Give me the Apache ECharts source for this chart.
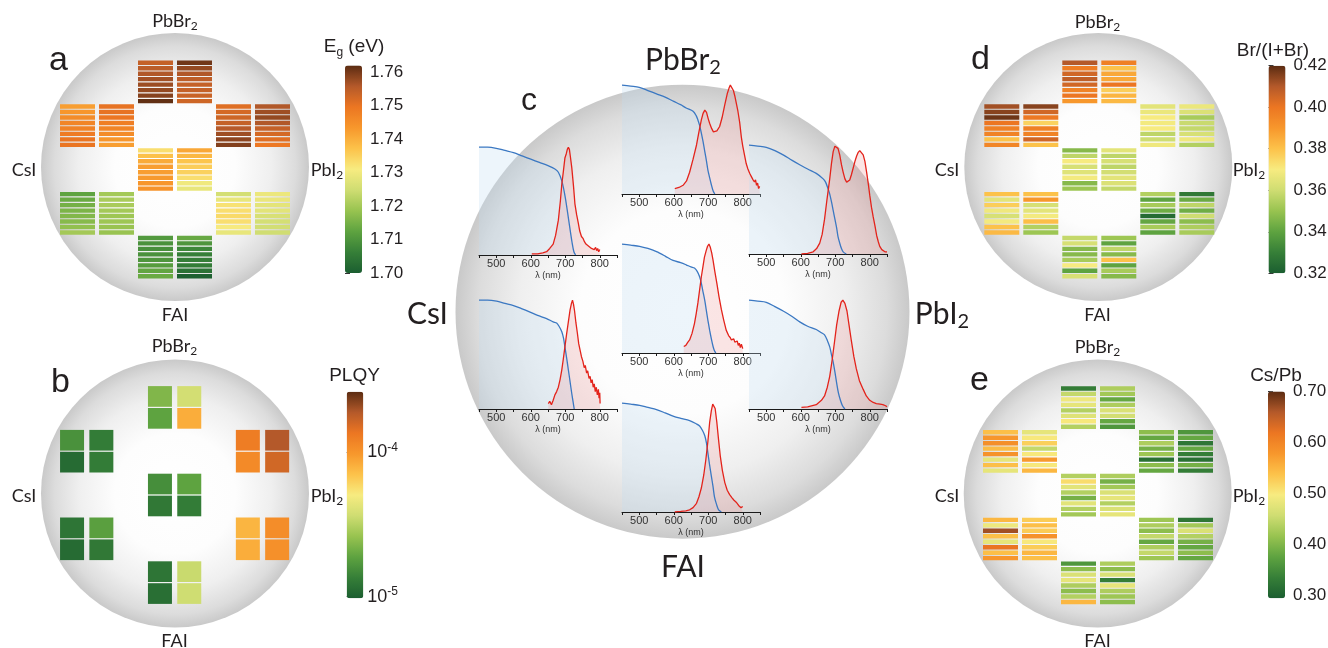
<!DOCTYPE html>
<html>
<head>
<meta charset="utf-8">
<title>Combinatorial perovskite maps</title>
<script src="https://cdn.jsdelivr.net/npm/echarts@6.0.0/dist/echarts.min.js"></script>
<style>
  html, body { margin: 0; padding: 0; background: #fff; }
  #chart { width: 1328px; height: 648px; }
</style>
</head>
<body>
<div id="chart"></div>
<script>
const FONT_LABEL = 'Lato, "Open Sans", sans-serif';
const FONT_NUM = '"Liberation Sans", Arial, sans-serif';
const INK = '#231f20';

// shared colormap, dark green -> yellow -> orange -> brown
const palette = ['#1b5e30', '#367f38', '#5ea340', '#98c350', '#cfdd72', '#f7eb80',
  '#fcc24a', '#f7972c', '#ec7622', '#b4592a', '#5b2c12'];

// block order everywhere: top, upper-left, upper-right, centre, lower-left, lower-right, bottom
// each block = two columns of stripes, values listed top to bottom
const bandGap = [
  [[1.754, 1.755, 1.756, 1.757, 1.7575, 1.758, 1.759, 1.7615], [1.7605, 1.758, 1.756, 1.7548, 1.754, 1.754, 1.7536, 1.753]],
  [[1.7424, 1.7436, 1.7455, 1.7467, 1.7474, 1.7486, 1.7498, 1.7498], [1.7502, 1.7502, 1.7496, 1.748, 1.7467, 1.7455, 1.7436, 1.7424]],
  [[1.751, 1.7523, 1.753, 1.754, 1.7555, 1.7573, 1.7585, 1.7592], [1.756, 1.7573, 1.758, 1.756, 1.754, 1.7523, 1.751, 1.7492]],
  [[1.733, 1.7374, 1.7405, 1.7424, 1.7424, 1.743, 1.7436, 1.7442], [1.7411, 1.7386, 1.7368, 1.7355, 1.7349, 1.733, 1.7299, 1.7287]],
  [[1.7124, 1.7137, 1.7149, 1.7156, 1.7162, 1.7168, 1.718, 1.7199], [1.72, 1.7206, 1.7206, 1.72, 1.7193, 1.7193, 1.7187, 1.7187]],
  [[1.7255, 1.7287, 1.7324, 1.733, 1.7336, 1.733, 1.7311, 1.7287], [1.7293, 1.729, 1.728, 1.7277, 1.7262, 1.7255, 1.7252, 1.7249]],
  [[1.7106, 1.7093, 1.709, 1.7093, 1.71, 1.7112, 1.7128, 1.7137], [1.7134, 1.71, 1.7075, 1.7062, 1.7059, 1.7056, 1.7037, 1.7006]]
];

// PLQY, two cells per column
const plqy = [
  [[2.30e-5, 1.88e-5], [3.77e-5, 8.3e-5]],
  [[1.60e-5, 1.11e-5], [1.31e-5, 1.31e-5]],
  [[1.27e-4, 1.12e-4], [1.89e-4, 1.60e-4]],
  [[1.55e-5, 1.27e-5], [1.88e-5, 1.31e-5]],
  [[1.23e-5, 1.11e-5], [1.82e-5, 1.27e-5]],
  [[7.8e-5, 8.3e-5], [1.08e-4, 1.05e-4]],
  [[1.23e-5, 1.15e-5], [3.52e-5, 3.64e-5]]
];

const brRatio = [
  [[0.41, 0.398, 0.405, 0.408, 0.405, 0.396, 0.40, 0.39], [0.397, 0.38, 0.386, 0.386, 0.40, 0.377, 0.383, 0.382]],
  [[0.412, 0.415, 0.418, 0.40, 0.397, 0.396, 0.38, 0.395], [0.415, 0.405, 0.399, 0.376, 0.397, 0.396, 0.405, 0.38]],
  [[0.365, 0.367, 0.37, 0.369, 0.37, 0.357, 0.36, 0.368], [0.367, 0.363, 0.353, 0.359, 0.358, 0.362, 0.368, 0.355]],
  [[0.347, 0.357, 0.37, 0.362, 0.364, 0.369, 0.347, 0.351], [0.365, 0.357, 0.362, 0.357, 0.361, 0.365, 0.363, 0.358]],
  [[0.38, 0.365, 0.377, 0.368, 0.362, 0.369, 0.38, 0.382], [0.38, 0.39, 0.362, 0.365, 0.369, 0.381, 0.355, 0.351]],
  [[0.355, 0.34, 0.353, 0.343, 0.324, 0.341, 0.353, 0.34], [0.328, 0.342, 0.357, 0.343, 0.36, 0.348, 0.354, 0.353]],
  [[0.358, 0.362, 0.347, 0.347, 0.353, 0.37, 0.34, 0.362], [0.351, 0.34, 0.357, 0.347, 0.38, 0.34, 0.353, 0.347]]
];

const csPb = [
  [[0.332, 0.448, 0.488, 0.48, 0.436, 0.472, 0.50, 0.436], [0.432, 0.424, 0.38, 0.432, 0.468, 0.46, 0.38, 0.36]],
  [[0.54, 0.58, 0.588, 0.544, 0.584, 0.48, 0.54, 0.48], [0.48, 0.50, 0.524, 0.448, 0.50, 0.576, 0.50, 0.548]],
  [[0.408, 0.38, 0.432, 0.392, 0.42, 0.316, 0.408, 0.38], [0.36, 0.38, 0.324, 0.38, 0.332, 0.316, 0.392, 0.332]],
  [[0.436, 0.512, 0.476, 0.436, 0.392, 0.476, 0.436, 0.424], [0.432, 0.392, 0.424, 0.468, 0.48, 0.436, 0.468, 0.48]],
  [[0.548, 0.488, 0.668, 0.54, 0.48, 0.62, 0.54, 0.58], [0.528, 0.54, 0.528, 0.584, 0.50, 0.528, 0.548, 0.54]],
  [[0.42, 0.432, 0.408, 0.448, 0.38, 0.432, 0.448, 0.42], [0.324, 0.424, 0.468, 0.436, 0.392, 0.38, 0.408, 0.38]],
  [[0.36, 0.408, 0.468, 0.48, 0.432, 0.408, 0.436, 0.548], [0.432, 0.408, 0.468, 0.332, 0.48, 0.432, 0.42, 0.408]]
];

// colorbar ticks
const tickEg = [1.70, 1.71, 1.72, 1.73, 1.74, 1.75, 1.76];
const tickPlqy = [1e-5, 1e-4];
const tickBr = [0.32, 0.34, 0.36, 0.38, 0.40, 0.42];
const tickCs = [0.30, 0.40, 0.50, 0.60, 0.70];

// spectra of panel c: [wavelength nm, normalised signal]; abs = absorbance (blue), pl = photoluminescence (red)
const absTop = [[450, 1.0], [475, 0.99], [500, 0.98], [525, 0.95], [550, 0.92], [575, 0.89], [600, 0.85], [620, 0.82], [636, 0.79], [656, 0.76], [665, 0.72], [670, 0.68], [675, 0.63], [680, 0.56], [685, 0.48], [690, 0.39], [695, 0.3], [699, 0.22], [704, 0.15], [709, 0.085], [714, 0.03], [719, 0]];
const plTop = [[603, 0.05], [615, 0.06], [627, 0.08], [637, 0.12], [646, 0.2], [656, 0.32], [666, 0.45], [673, 0.57], [680, 0.68], [685, 0.74], [690, 0.77], [695, 0.75], [700, 0.69], [704, 0.65], [710, 0.6], [715, 0.57], [719, 0.56], [725, 0.58], [733, 0.62], [740, 0.7], [748, 0.82], [755, 0.92], [760, 0.97], [764, 1.0], [768, 0.99], [773, 0.95], [777, 0.9], [781, 0.84], [786, 0.76], [791, 0.66], [796, 0.52], [800, 0.44], [805, 0.36], [810, 0.28], [815, 0.23], [820, 0.19], [825, 0.16], [830, 0.13], [834, 0.11], [837, 0.13], [840, 0.08], [843, 0.1], [846, 0.05], [849, 0.07]];
const absUpperLeft = [[450, 0.99], [475, 0.99], [500, 0.98], [525, 0.96], [550, 0.94], [575, 0.91], [600, 0.88], [625, 0.85], [650, 0.82], [670, 0.79], [680, 0.76], [690, 0.68], [700, 0.53], [710, 0.32], [720, 0.11], [725, 0.03], [730, 0]];
const plUpperLeft = [[603, 0.01], [620, 0.01], [635, 0.02], [646, 0.03], [655, 0.06], [665, 0.1], [672, 0.18], [680, 0.32], [686, 0.5], [690, 0.65], [695, 0.78], [699, 0.89], [703, 0.93], [706, 0.97], [709, 0.99], [712, 0.97], [715, 0.9], [719, 0.8], [724, 0.63], [728, 0.47], [733, 0.37], [738, 0.29], [742, 0.22], [747, 0.17], [752, 0.15], [756, 0.12], [760, 0.1], [764, 0.11], [768, 0.08], [772, 0.09], [776, 0.06], [780, 0.07], [784, 0.05], [788, 0.07], [791, 0.04], [794, 0.06], [797, 0.03], [800, 0.05]];
const absUpperRight = [[450, 1.0], [475, 0.99], [500, 0.98], [525, 0.95], [549, 0.91], [575, 0.86], [597, 0.82], [620, 0.78], [645, 0.74], [665, 0.69], [672, 0.66], [679, 0.6], [684, 0.55], [689, 0.48], [694, 0.4], [699, 0.32], [704, 0.24], [708, 0.16], [713, 0.1], [718, 0.05], [723, 0.02], [732, 0]];
const plUpperRight = [[602, 0], [620, 0.005], [636, 0.02], [646, 0.05], [655, 0.1], [662, 0.18], [669, 0.32], [676, 0.5], [684, 0.69], [689, 0.83], [694, 0.94], [699, 0.99], [704, 1.0], [708, 0.97], [713, 0.91], [718, 0.82], [723, 0.75], [728, 0.69], [733, 0.66], [737, 0.65], [742, 0.68], [747, 0.73], [752, 0.79], [757, 0.85], [762, 0.9], [766, 0.93], [771, 0.95], [776, 0.95], [781, 0.91], [786, 0.85], [791, 0.75], [796, 0.64], [800, 0.54], [805, 0.43], [810, 0.34], [815, 0.26], [820, 0.17], [825, 0.11], [829, 0.07], [835, 0.04], [840, 0.03], [844, 0.02], [850, 0.02]];
const absCentre = [[450, 1.0], [475, 0.99], [501, 0.98], [525, 0.96], [550, 0.93], [575, 0.89], [598, 0.85], [620, 0.83], [636, 0.81], [650, 0.79], [660, 0.78], [668, 0.75], [675, 0.7], [680, 0.64], [685, 0.56], [690, 0.48], [694, 0.4], [699, 0.3], [704, 0.21], [709, 0.13], [714, 0.06], [718, 0.02], [722, 0]];
const plCentre = [[629, 0.06], [635, 0.07], [641, 0.1], [646, 0.12], [653, 0.18], [660, 0.27], [665, 0.36], [670, 0.46], [675, 0.58], [680, 0.7], [685, 0.8], [689, 0.88], [694, 0.94], [698, 0.98], [702, 1.0], [706, 0.97], [710, 0.92], [714, 0.85], [719, 0.75], [725, 0.64], [731, 0.52], [738, 0.4], [745, 0.3], [752, 0.21], [759, 0.16], [764, 0.14], [767, 0.12], [771, 0.11], [774, 0.13], [777, 0.1], [781, 0.09], [784, 0.11], [787, 0.07], [790, 0.09], [793, 0.05], [796, 0.08], [800, 0.04]];
const absLowerLeft = [[450, 1.0], [475, 1.0], [501, 0.99], [525, 0.97], [550, 0.95], [575, 0.92], [598, 0.89], [620, 0.86], [646, 0.83], [665, 0.8], [675, 0.79], [682, 0.76], [690, 0.71], [695, 0.65], [699, 0.57], [704, 0.47], [709, 0.36], [714, 0.25], [719, 0.14], [723, 0.06], [726, 0]];
const plLowerLeft = [[651, 0.05], [655, 0.07], [660, 0.04], [665, 0.08], [670, 0.13], [675, 0.16], [680, 0.2], [685, 0.27], [690, 0.36], [694, 0.45], [699, 0.57], [704, 0.69], [709, 0.8], [714, 0.91], [718, 0.97], [721, 1.0], [724, 0.96], [727, 0.9], [731, 0.79], [735, 0.7], [739, 0.6], [743, 0.54], [747, 0.48], [751, 0.44], [755, 0.38], [758, 0.4], [762, 0.33], [765, 0.35], [769, 0.28], [772, 0.3], [775, 0.24], [778, 0.27], [781, 0.2], [784, 0.23], [787, 0.16], [790, 0.2], [793, 0.13], [796, 0.18], [798, 0.1], [800, 0.15], [801, 0.05]];
const absLowerRight = [[450, 1.0], [475, 0.99], [500, 0.98], [525, 0.94], [549, 0.9], [575, 0.85], [597, 0.8], [620, 0.76], [645, 0.73], [660, 0.7], [669, 0.68], [677, 0.63], [684, 0.57], [689, 0.5], [694, 0.43], [699, 0.34], [704, 0.24], [709, 0.15], [715, 0.08], [721, 0.03], [728, 0]];
const plLowerRight = [[602, 0.015], [620, 0.02], [645, 0.04], [660, 0.08], [669, 0.12], [677, 0.2], [684, 0.3], [691, 0.45], [698, 0.62], [704, 0.77], [711, 0.9], [717, 0.98], [722, 1.0], [728, 0.97], [734, 0.9], [740, 0.77], [747, 0.62], [754, 0.48], [761, 0.37], [770, 0.26], [781, 0.18], [790, 0.12], [800, 0.08], [810, 0.06], [819, 0.05], [830, 0.045], [838, 0.04], [846, 0.03], [850, 0.02]];
const absBottom = [[450, 1.0], [475, 0.99], [501, 0.98], [525, 0.96], [550, 0.94], [575, 0.91], [598, 0.88], [620, 0.86], [646, 0.84], [665, 0.81], [675, 0.79], [683, 0.75], [690, 0.7], [695, 0.63], [699, 0.54], [704, 0.43], [709, 0.33], [714, 0.23], [718, 0.14], [724, 0.07], [730, 0.02], [738, 0]];
const plBottom = [[603, 0.0], [620, 0.005], [635, 0.01], [646, 0.02], [656, 0.04], [666, 0.08], [673, 0.14], [680, 0.22], [687, 0.34], [693, 0.48], [699, 0.65], [704, 0.82], [709, 0.93], [713, 0.99], [716, 1.0], [720, 0.95], [725, 0.82], [730, 0.66], [735, 0.51], [741, 0.38], [748, 0.27], [755, 0.2], [762, 0.16], [769, 0.13], [774, 0.11], [777, 0.12], [781, 0.09], [785, 0.1], [788, 0.06], [791, 0.07], [795, 0.04], [800, 0.05]];

// ---- layout ----
// [first column, block row] of each spot on the wafer
const slotsStriped = [[2, 0], [0, 1], [4, 1], [2, 2], [0, 3], [4, 3], [2, 4]];
const slotsPlqy = [[3, 0], [0, 1], [6, 1], [3, 2], [0, 3], [6, 3], [3, 4]];

const spectra = [
  { abs: absTop, pl: plTop, left: 622, top: 84 },
  { abs: absUpperLeft, pl: plUpperLeft, left: 479, top: 145 },
  { abs: absUpperRight, pl: plUpperRight, left: 749, top: 144 },
  { abs: absCentre, pl: plCentre, left: 622, top: 243 },
  { abs: absLowerLeft, pl: plLowerLeft, left: 479, top: 299 },
  { abs: absLowerRight, pl: plLowerRight, left: 749, top: 299 },
  { abs: absBottom, pl: plBottom, left: 622, top: 402 }
];

function cellData(blocks, slots, perCol, fn) {
  const out = [];
  blocks.forEach((block, k) => {
    block.forEach((col, c) => {
      col.forEach((v, s) => {
        out.push([slots[k][0] + c, slots[k][1] * perCol + s, fn ? fn(v) : v]);
      });
    });
  });
  return out;
}

function cellRenderer(gapX, gapY) {
  return function (params, api) {
    const p = api.coord([api.value(0), api.value(1)]);
    const sz = api.size([1, 1]);
    return {
      type: 'rect',
      shape: { x: p[0] - sz[0] / 2 + gapX / 2, y: p[1] - sz[1] / 2 + gapY / 2, width: sz[0] - gapX, height: sz[1] - gapY },
      style: { fill: api.visual('color') }
    };
  };
}

const range = n => Array.from({ length: n }, (_, i) => i);

const grid = [], xAxis = [], yAxis = [], series = [], visualMap = [];

function addMap(box, nCols, nRows, data, gapX, gapY) {
  const gi = grid.length;
  grid.push(Object.assign({ outerBoundsMode: 'none', containLabel: false }, box));
  xAxis.push({ type: 'category', gridIndex: gi, show: false, data: range(nCols) });
  yAxis.push({ type: 'category', gridIndex: gi, show: false, inverse: true, data: range(nRows) });
  series.push({ type: 'custom', xAxisIndex: gi, yAxisIndex: gi, data, renderItem: cellRenderer(gapX, gapY), silent: true });
  return series.length - 1;
}

addMap({ left: 58, top: 60, width: 234, height: 219 }, 6, 40, cellData(bandGap, slotsStriped, 8), 4, 1.1);
addMap({ left: 57.4, top: 385.5, width: 234.4, height: 219 }, 8, 10, cellData(plqy, slotsPlqy, 2, Math.log10), 5.3, 1.2);
addMap({ left: 982.3, top: 60, width: 234, height: 219 }, 6, 40, cellData(brRatio, slotsStriped, 8), 4, 1.1);
addMap({ left: 981, top: 385.7, width: 234, height: 219 }, 6, 40, cellData(csPb, slotsStriped, 8), 4, 1.1);

const labelStyle = { color: INK, fontSize: 17, fontFamily: FONT_NUM };

function addColorbar(box, seriesIndex, axisType, min, max, mapMin, mapMax, ticks, fmt, extraLabel) {
  const gi = grid.length;
  grid.push(Object.assign({ outerBoundsMode: 'none', containLabel: false }, box));
  xAxis.push({ type: 'value', gridIndex: gi, show: false, min: 0, max: 1 });
  yAxis.push({
    type: axisType, gridIndex: gi, min, max, position: 'right', logBase: 10,
    axisLine: { show: false }, splitLine: { show: false },
    axisTick: { show: true, length: 5, customValues: ticks, lineStyle: { color: '#333', width: 1 } },
    axisLabel: Object.assign({ customValues: ticks, formatter: fmt, margin: 8, lineHeight: 20 }, labelStyle, extraLabel || {})
  });
  visualMap.push({
    type: 'continuous', seriesIndex, dimension: 2, min: mapMin, max: mapMax,
    calculable: false, orient: 'vertical', padding: 0,
    left: box.left, top: box.top, itemWidth: box.width, itemHeight: box.height,
    inRange: { color: palette }, hoverLink: false
  });
}

const fixed2 = v => v.toFixed(2);
addColorbar({ left: 345, top: 65.5, width: 17, height: 207.5 }, 0, 'value', 1.70, 1.762, 1.70, 1.762, tickEg, fixed2);
addColorbar({ left: 346.7, top: 391.7, width: 16.6, height: 206.6 }, 1, 'log', 9.75e-6, 2.63e-4, -5.011, -3.58, tickPlqy,
  v => '{b|10}{sup|' + Math.round(Math.log10(v)) + '}',
  {
    margin: 4,
    rich: {
      b: { fontSize: 18, lineHeight: 22, color: INK, fontFamily: FONT_NUM },
      sup: { fontSize: 12, lineHeight: 12, verticalAlign: 'top', color: INK, fontFamily: FONT_NUM }
    }
  });
addColorbar({ left: 1268.5, top: 65.7, width: 17, height: 207.6 }, 2, 'value', 0.32, 0.42, 0.32, 0.42, tickBr, fixed2);
addColorbar({ left: 1268, top: 391.5, width: 17, height: 206.8 }, 3, 'value', 0.294, 0.70, 0.294, 0.70, tickCs, fixed2);

spectra.forEach(sp => {
  const gi = grid.length;
  grid.push({ left: sp.left, top: sp.top, width: 138, height: 110, outerBoundsMode: 'none', containLabel: false });
  xAxis.push({
    type: 'value', gridIndex: gi, min: 450, max: 850, interval: 50,
    name: 'λ (nm)', nameLocation: 'middle', nameGap: 16,
    nameTextStyle: { fontSize: 9, color: '#333', fontFamily: FONT_NUM },
    axisLine: { show: true, lineStyle: { color: '#1a1a1a', width: 1 } },
    axisTick: { show: true, length: 3, lineStyle: { color: '#1a1a1a' } },
    axisLabel: { formatter: v => (v % 100 === 0 ? String(v) : ''), fontSize: 11, color: '#333', margin: 3, fontFamily: FONT_NUM, showMinLabel: true, showMaxLabel: true },
    splitLine: { show: false }
  });
  yAxis.push({ type: 'value', gridIndex: gi, min: 0, max: 1.01, show: false });
  series.push({
    type: 'line', xAxisIndex: gi, yAxisIndex: gi, data: sp.abs, symbol: 'none', smooth: 0.3,
    lineStyle: { color: '#3b78c2', width: 1.3 }, areaStyle: { color: 'rgba(195,222,242,0.42)' }, silent: true
  });
  series.push({
    type: 'line', xAxisIndex: gi, yAxisIndex: gi, data: sp.pl, symbol: 'none',
    lineStyle: { color: '#e3231b', width: 1.3 }, areaStyle: { color: 'rgba(236,120,120,0.28)' }, silent: true
  });
});

// ---- decorations: wafers, labels ----
const waferFill = {
  type: 'radial', x: 0.5, y: 0.5, r: 0.5,
  colorStops: [
    { offset: 0, color: '#ffffff' }, { offset: 0.45, color: '#fdfdfd' }, { offset: 0.72, color: '#efefef' },
    { offset: 0.9, color: '#dcdcdc' }, { offset: 1, color: '#c9c9c9' }
  ]
};
const wafer = (cx, cy, r) => ({ type: 'circle', silent: true, z: -1, shape: { cx, cy, r }, style: { fill: waferFill } });

function chem(size) {
  return {
    m: { fontSize: size, fontFamily: FONT_LABEL, fill: INK, lineHeight: Math.round(size * 1.2) },
    s: { fontSize: Math.round(size * 0.68), fontFamily: FONT_LABEL, fill: INK, lineHeight: Math.round(size * 0.48), verticalAlign: 'bottom' }
  };
}
function numRich(size) {
  return {
    m: { fontSize: size, fontFamily: FONT_NUM, fill: INK, lineHeight: Math.round(size * 1.2) },
    s: { fontSize: Math.round(size * 0.65), fontFamily: FONT_NUM, fill: INK, lineHeight: Math.round(size * 0.4), verticalAlign: 'bottom' }
  };
}
const txt = (x, y, text, rich) => ({
  type: 'text', x, y, silent: true, z: 1,
  style: { text, rich, align: 'center', verticalAlign: 'middle', fill: INK }
});
const letter = (x, y, t, size) => ({
  type: 'text', x, y, silent: true, z: 1,
  style: { text: t, fontSize: size, fontFamily: FONT_NUM, fill: INK, align: 'left', verticalAlign: 'middle' }
});

function cornerLabels(cx, top, midY, bottom, left, right, size) {
  const r = chem(size);
  return [
    txt(cx, top, '{m|PbBr}{s|2}', r),
    txt(left, midY, '{m|CsI}', r),
    txt(right, midY, '{m|PbI}{s|2}', r),
    txt(cx, bottom, '{m|FAI}', r)
  ];
}

const graphic = [
  wafer(175, 167, 134), wafer(175, 493.5, 134), wafer(1098.3, 167, 134), wafer(1097.7, 493.5, 134), wafer(682.5, 311.7, 227),
  ...cornerLabels(175, 21.5, 170.5, 315, 24, 327, 18),
  ...cornerLabels(174.5, 346.5, 496, 641, 24, 327, 18),
  ...cornerLabels(1097.5, 22, 170.5, 315, 947, 1249, 18),
  ...cornerLabels(1097.5, 347, 496, 641, 947, 1249, 18),
  ...cornerLabels(683, 60, 314, 567, 427.5, 942, 30),
  letter(49, 61, 'a', 34), letter(51, 383, 'b', 34), letter(521, 101.5, 'c', 32),
  letter(971, 60, 'd', 34), letter(970, 381, 'e', 34),
  txt(354, 47, '{m|E}{s|g}{m| (eV)}', numRich(19)),
  txt(354.5, 376, '{m|PLQY}', numRich(19)),
  txt(1273, 51, '{m|Br/(I+Br)}', numRich(19)),
  txt(1276, 376, '{m|Cs/Pb}', numRich(19))
];

const chart = echarts.init(document.getElementById('chart'), null, { renderer: 'canvas' });
chart.setOption({
  animation: false,
  backgroundColor: '#ffffff',
  textStyle: { fontFamily: FONT_NUM },
  graphic: { elements: graphic },
  grid, xAxis, yAxis, visualMap, series
});
</script>
</body>
</html>
